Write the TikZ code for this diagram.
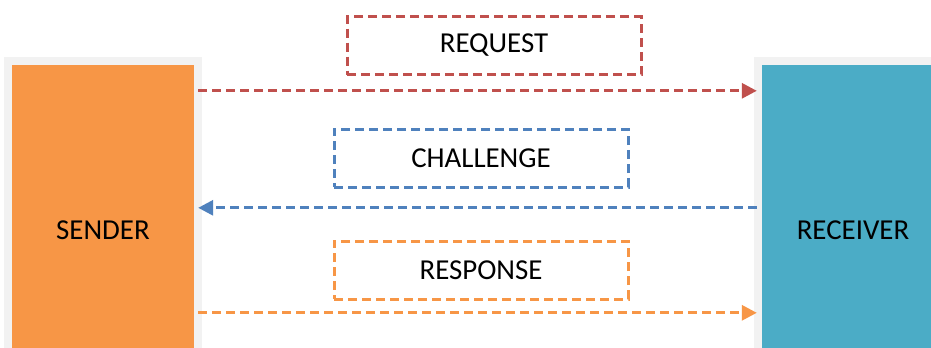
\documentclass[tikz,border=0pt]{standalone}
\usepackage{fontspec}
\setmainfont{Carlito}
\usetikzlibrary{arrows.meta}
\definecolor{cred}{HTML}{C0504D}
\definecolor{cblue}{HTML}{4F81BD}
\definecolor{corange}{HTML}{F79646}
\definecolor{cteal}{HTML}{4BACC6}
\definecolor{cgray}{HTML}{F2F2F2}
\begin{document}
\begin{tikzpicture}[x=1bp,y=-1bp,
  lbl/.style={font=\fontsize{29}{32}\selectfont},
  frame/.style={fill=cgray,draw=none,inner sep=0pt},
  party/.style={draw=none,inner sep=0pt,lbl},
  msgbox/.style={draw,line width=3bp,dash pattern=on 9bp off 5bp,minimum width=294bp,minimum height=58bp,inner sep=0pt,lbl},
  msgline/.style={line width=3bp,dash pattern=on 9bp off 5bp,-{Triangle[length=15bp,width=15bp]}}
]
\useasboundingbox (0,0) rectangle (931,347);
\fill[white] (0,0) rectangle (931,347);
\begin{scope}
\clip (0,0) rectangle (931,347);
\node[frame,minimum width=198bp,minimum height=346bp] (sendbg) at (103,230) {};
\node[party,fill=corange,minimum width=182bp,minimum height=330bp] (sender) at (103,230) {SENDER};
\node[frame,minimum width=198bp,minimum height=346bp] (recvbg) at (853,230) {};
\node[party,fill=cteal,minimum width=182bp,minimum height=330bp] (receiver) at (853,230) {RECEIVER};
\end{scope}
\node[msgbox,draw=cred] (req) at (494,45.5) {REQUEST};
\node[msgbox,draw=cblue] (chal) at (481,158) {CHALLENGE};
\node[msgbox,draw=corange] (resp) at (481,270) {RESPONSE};
\coordinate (r1) at ([xshift=4bp,yshift=-26bp]sender.north east);
\coordinate (b1) at ([xshift=-5bp,yshift=-143bp]receiver.north west);
\coordinate (o1) at ([xshift=4bp,yshift=-248bp]sender.north east);
\draw[msgline,cred] (r1) -- (r1 -| b1);
\draw[msgline,cblue] (b1) -- (b1 -| r1);
\draw[msgline,corange] (o1) -- (o1 -| b1);
\end{tikzpicture}
\end{document}
